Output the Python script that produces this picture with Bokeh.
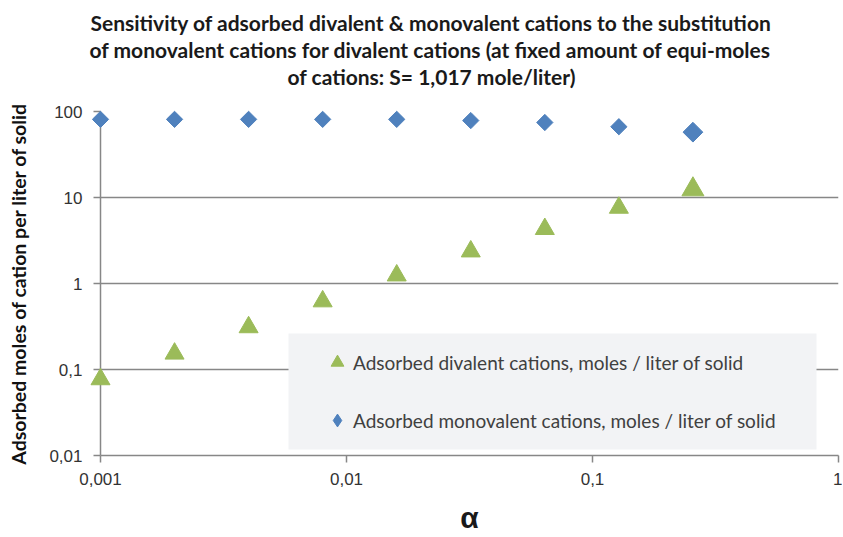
import numpy as np
from bokeh.plotting import figure
from bokeh.models import (FixedTicker, Legend, LegendItem, Title, BoxAnnotation,
                          ColumnDataSource)
from bokeh.embed import file_html
from bokeh.resources import INLINE

# ---- data ----
alpha = [0.001, 0.002, 0.004, 0.008, 0.016, 0.032, 0.064, 0.128, 0.256]
divalent = [0.077, 0.153, 0.31, 0.62, 1.24, 2.36, 4.3, 7.6, 12.4]
monovalent = [81, 81, 81, 81, 81, 78.5, 74.5, 66.5, 57.5]

x_ticks = [0.001, 0.01, 0.1, 1]
x_tick_labels = ["0,001", "0,01", "0,1", "1"]
y_ticks = [0.01, 0.1, 1, 10, 100]
y_tick_labels = ["0,01", "0,1", "1", "10", "100"]

title_lines = ["Sensitivity of adsorbed divalent & monovalent cations to the substitution",
               "of monovalent cations for divalent cations (at fixed amount of equi-moles",
               "of cations: S= 1,017 mole/liter)"]
x_label = "\u03b1"
y_label = "Adsorbed moles of cation per liter of solid"
legend_labels = ["Adsorbed divalent cations, moles / liter of solid",
                 "Adsorbed monovalent cations, moles / liter of solid"]

# ---- styles ----
tri_sizes = [19] * 8 + [22]
dia_sizes = [11.5] * 8 + [14]
GREEN = "#9BBB59"
BLUE = "#4F81BD"
GRID = "#878787"
TXT = "#333333"

src = ColumnDataSource(dict(alpha=alpha, divalent=divalent, monovalent=monovalent,
                            tri_size=tri_sizes, dia_size=dia_sizes))

p = figure(width=842, height=536, x_axis_type="log", y_axis_type="log",
           x_range=(0.001, 1), y_range=(0.01, 100), title=None,
           output_backend="svg", toolbar_location=None,
           min_border_left=100, min_border_right=4, min_border_top=111,
           min_border_bottom=80)
p.outline_line_color = None

# axes
for ax in (p.xaxis[0], p.yaxis[0]):
    ax.axis_line_color = GRID
    ax.axis_line_width = 1.5
    ax.major_tick_line_color = GRID
    ax.major_tick_line_width = 1.5
    ax.major_tick_out = 7
    ax.major_tick_in = 0
    ax.minor_tick_line_color = None
    ax.major_label_text_font = "Liberation Sans"
    ax.major_label_text_font_size = "17px"
    ax.major_label_text_color = TXT

p.xaxis.ticker = FixedTicker(ticks=x_ticks, minor_ticks=[])
p.xaxis.major_label_overrides = dict(zip(x_ticks, x_tick_labels))
p.yaxis.ticker = FixedTicker(ticks=y_ticks, minor_ticks=[])
p.yaxis.major_label_overrides = dict(zip(y_ticks, y_tick_labels))

p.xaxis.major_label_standoff = 10
p.yaxis.major_label_standoff = 11

p.xaxis.axis_label = x_label
p.xaxis.axis_label_text_font = "Liberation Sans"
p.xaxis.axis_label_text_font_size = "30px"
p.xaxis.axis_label_text_font_style = "bold"
p.xaxis.axis_label_text_color = "#1a1a1a"
p.xaxis.axis_label_standoff = 13

p.yaxis.axis_label = y_label
p.yaxis.axis_label_text_font = "Lato"
p.yaxis.axis_label_text_font_size = "19.5px"
p.yaxis.axis_label_text_font_style = "bold"
p.yaxis.axis_label_text_color = "#111111"
p.yaxis.axis_label_standoff = 16

# grid
p.xgrid.visible = False
p.ygrid.ticker = FixedTicker(ticks=y_ticks, minor_ticks=[])
p.ygrid.grid_line_color = GRID
p.ygrid.grid_line_width = 1.5

# data (drawn at overlay level so the markers on the axis are not cut)
r_tri = p.scatter(x="alpha", y="divalent", source=src, marker="triangle",
                  size="tri_size", fill_color=GREEN, line_color=GREEN,
                  level="overlay")
r_dia = p.scatter(x="alpha", y="monovalent", source=src, marker="square",
                  angle=np.pi / 4, size="dia_size", fill_color=BLUE, line_color=BLUE,
                  level="overlay")
# hidden twin of the monovalent series, used only for its diamond legend key
r_dia_key = p.scatter(x="alpha", y="monovalent", source=src, marker="diamond",
                      fill_color=BLUE, line_color=BLUE, visible=False)

# legend background
box = BoxAnnotation(left=188, right=716, bottom=6, top=122,
                    left_units="screen", right_units="screen",
                    bottom_units="screen", top_units="screen",
                    fill_color="#F2F3F5", fill_alpha=1.0, line_color=None)
p.add_layout(box)

legend = Legend(items=[LegendItem(label=legend_labels[0], renderers=[r_tri]),
                       LegendItem(label=legend_labels[1], renderers=[r_dia_key])],
                location=(221, 19), glyph_width=32, glyph_height=32,
                label_standoff=0, padding=0, spacing=26, margin=0,
                background_fill_alpha=0, border_line_alpha=0,
                inactive_fill_alpha=0,
                label_text_font="Lato", label_text_font_size="19px",
                label_text_color="#404040")
p.add_layout(legend)

# title (stacked lines above the frame; first added is closest to the frame)
tstyle = dict(text_font="Lato", text_font_style="bold", text_font_size="21px",
              text_color="#1a1a1a", align="left", vertical_align="middle")
p.add_layout(Title(text=" ", text_font_size="12px", standoff=6), "above")
p.add_layout(Title(text=title_lines[2], offset=187, standoff=0, **tstyle), "above")
p.add_layout(Title(text=title_lines[1], offset=-11, standoff=0, **tstyle), "above")
p.add_layout(Title(text=title_lines[0], offset=-10, standoff=0, **tstyle), "above")

open("out.html", "w").write(file_html(p, INLINE))
